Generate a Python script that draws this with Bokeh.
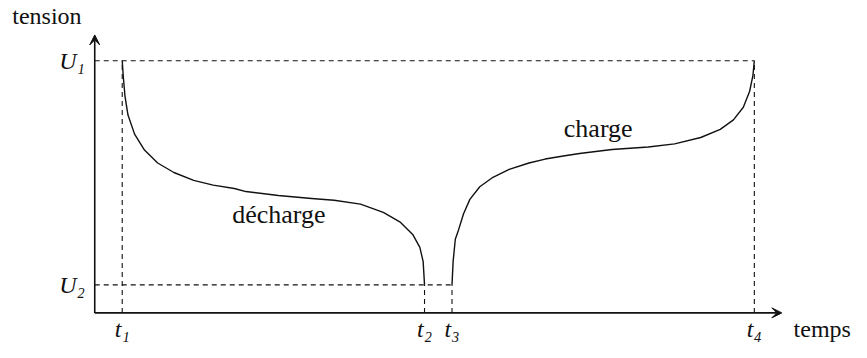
from bokeh.plotting import figure
from bokeh.models import Range1d, Arrow, VeeHead
from bokeh.embed import file_html
from bokeh.resources import INLINE
from bokeh.core.properties import value

# ---- data (arbitrary units) ----
t_marks = [1.0, 12.0, 13.0, 24.0]
t_labels = ["t₁", "t₂", "t₃", "t₄"]
u_levels = [9.0, 1.0]
u_labels = ["U₁", "U₂"]
t_axis_end = 25.0
u_axis_end = 9.92

discharge_t = [1.0, 1.04, 1.10, 1.21, 1.45, 1.81, 2.29, 2.88, 3.6, 4.31, 5.08,
               5.5, 6.68, 7.89, 8.71, 9.67, 10.5, 11.1, 11.57, 11.83, 11.95, 12.0]
discharge_u = [9.0, 8.42, 7.74, 7.06, 6.38, 5.81, 5.35, 5.01, 4.73, 4.56, 4.44,
               4.33, 4.19, 4.08, 4.02, 3.88, 3.59, 3.25, 2.80, 2.34, 1.83, 1.0]

charge_t = [13.0, 13.04, 13.12, 13.24, 13.42, 13.65, 14.01, 14.49, 15.08, 15.8,
            16.39, 17.05, 17.64, 18.82, 20.14, 21.1, 22.05, 22.76, 23.24, 23.6,
            23.83, 23.95, 24.0]
charge_u = [1.0, 1.83, 2.63, 2.97, 3.54, 4.05, 4.50, 4.84, 5.12, 5.35,
            5.49, 5.60, 5.69, 5.83, 5.92, 6.03, 6.26, 6.55, 6.89, 7.34,
            7.91, 8.48, 9.0]

INK = "#111111"
SERIF = "Liberation Serif"

p = figure(width=851, height=342, x_range=Range1d(-3.429, 27.536),
           y_range=Range1d(-1.057, 11.149), x_axis_type=None, y_axis_type=None,
           toolbar_location=None, output_backend="svg", min_border=0,
           outline_line_color=None, background_fill_color="white",
           border_fill_color="white")

# axes with arrow heads
p.add_layout(Arrow(x_start=0, y_start=0, x_end=t_axis_end, y_end=0,
                   line_color=INK, line_width=1.6,
                   end=VeeHead(size=10, fill_color=INK, line_color=INK)))
p.add_layout(Arrow(x_start=0, y_start=0, x_end=0, y_end=u_axis_end,
                   line_color=INK, line_width=1.6,
                   end=VeeHead(size=10, fill_color=INK, line_color=INK)))

# dashed guide lines
u1, u2 = u_levels
t1, t2, t3, t4 = t_marks
p.segment(x0=[0, 0], y0=[u1, u2], x1=[t4, t3], y1=[u1, u2],
          line_color=INK, line_width=1.1, line_dash="5 4")
p.segment(x0=t_marks, y0=[0, 0, 0, 0], x1=t_marks, y1=[u1, u2, u2, u1],
          line_color=INK, line_width=1.1, line_dash="5 4")

# curves
p.line(discharge_t, discharge_u, line_color=INK, line_width=1.4, line_join="round")
p.line(charge_t, charge_u, line_color=INK, line_width=1.4, line_join="round")

# tick labels
p.text(x=t_marks, y=[-0.58] * 4, text=t_labels, text_align="center",
       text_baseline="alphabetic", text_font=value(SERIF),
       text_font_style="italic", text_font_size="24px", text_color=INK)
p.text(x=[-0.36, -0.36], y=[u1, u2], text=u_labels,
       text_align="right", text_baseline="alphabetic", text_font=value(SERIF),
       text_font_style="italic", text_font_size="24px", text_color=INK)

# axis titles and curve labels
p.text(x=[-3.0], y=[10.58], text=["tension"], text_align="left",
       text_baseline="alphabetic", text_font=value(SERIF),
       text_font_size="24px", text_color=INK)
p.text(x=[25.43], y=[-0.58], text=["temps"], text_align="left",
       text_baseline="alphabetic", text_font=value(SERIF),
       text_font_size="24px", text_color=INK)
p.text(x=[6.70], y=[3.52], text=["décharge"], text_align="center",
       text_baseline="alphabetic", text_font=value(SERIF),
       text_font_size="26px", text_color=INK)
p.text(x=[18.32], y=[6.59], text=["charge"], text_align="center",
       text_baseline="alphabetic", text_font=value(SERIF),
       text_font_size="26px", text_color=INK)

open("out.html", "w").write(file_html(p, INLINE))
